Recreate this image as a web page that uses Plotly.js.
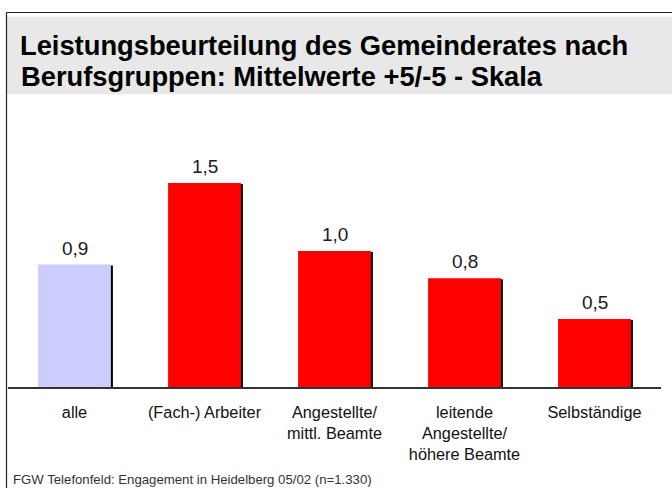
<!DOCTYPE html>
<html>
<head>
<meta charset="utf-8">
<script src="https://cdn.plot.ly/plotly-3.0.1.min.js"></script>
<style>
  html, body { margin: 0; padding: 0; background: #ffffff; }
  #chart { width: 672px; height: 488px; }
</style>
</head>
<body>
<div id="chart"></div>
<script>
// ---- data ----
const categories = ['alle', '(Fach-) Arbeiter', 'Angestellte/<br>mittl. Beamte', 'leitende<br>Angestellte/<br>höhere Beamte', 'Selbständige'];
const values = [0.9, 1.5, 1.0, 0.8, 0.5];
const barColors = ['#ccccff', '#ff0000', '#ff0000', '#ff0000', '#ff0000'];
const titleLine1 = 'Leistungsbeurteilung des Gemeinderates nach';
const titleLine2 = 'Berufsgruppen: Mittelwerte +5/-5 - Skala';
const footer = 'FGW Telefonfeld: Engagement in Heidelberg 05/02 (n=1.330)';

// ---- layout geometry (pixels) ----
const W = 672, H = 488;
const M = { l: 8, r: 11, t: 110, b: 101 };
const plotW = W - M.l - M.r, plotH = H - M.t - M.b;
const pxPerUnit = 136;
const yTop = plotH / pxPerUnit;
const catPx = 130;
const xHalf = (plotW / catPx) / 2;
const xr = [ (categories.length - 1) / 2 - xHalf, (categories.length - 1) / 2 + xHalf ];
const px = x => (x - M.l) / plotW;
const py = y => (H - M.b - y) / plotH;

const FONT = 'Arial, "Liberation Sans", sans-serif';
const barW = 0.56;
const shadowDx = 2 / catPx;
const shadowDy = 1 / pxPerUnit;

const shadow = {
  type: 'bar', x: categories, y: values, base: -shadowDy,
  width: barW, offset: -barW / 2 + shadowDx,
  marker: { color: '#000000', line: { width: 0 } },
  hoverinfo: 'skip', showlegend: false
};
const bars = {
  type: 'bar', x: categories, y: values,
  width: barW, offset: -barW / 2,
  marker: { color: barColors, line: { width: 0 } },
  hoverinfo: 'x+y', showlegend: false
};

const valueLabels = categories.map((c, i) => ({
  x: c, y: values[i], xref: 'x', yref: 'y',
  text: values[i].toFixed(1).replace('.', ','),
  showarrow: false, yanchor: 'bottom', yshift: 4,
  font: { family: FONT, size: 19, color: '#1a1a1a' }
}));

const layout = {
  width: W, height: H,
  margin: M,
  paper_bgcolor: '#ffffff', plot_bgcolor: 'rgba(0,0,0,0)',
  barmode: 'overlay',
  separators: ',.',
  title: {
    text: '<b>' + titleLine1 + '</b>',
    font: { family: FONT, size: 27.3, color: '#000000' },
    x: 20 / W, xanchor: 'left', xref: 'container',
    y: 1 - 54.5 / H, yanchor: 'bottom', yref: 'container'
  },
  xaxis: {
    type: 'category', range: xr, fixedrange: true,
    showline: true, linecolor: '#333333', linewidth: 2,
    ticks: '', showgrid: false, zeroline: false,
    ticklabelstandoff: 9,
    tickfont: { family: FONT, size: 16.3, color: '#111111' }
  },
  yaxis: {
    range: [0, yTop], visible: false, fixedrange: true,
    showgrid: false, zeroline: false
  },
  shapes: [
    { type: 'rect', xref: 'paper', yref: 'paper', layer: 'below',
      x0: px(7), x1: px(W + 2), y0: py(94.3), y1: py(16.7),
      fillcolor: '#e8e8e8', line: { width: 0 } },
    { type: 'line', xref: 'paper', yref: 'paper',
      x0: px(6.5), x1: px(W + 2), y0: py(12.5), y1: py(12.5),
      line: { color: '#222222', width: 1.2 } },
    { type: 'line', xref: 'paper', yref: 'paper',
      x0: px(6.5), x1: px(6.5), y0: py(12.5), y1: py(H + 2),
      line: { color: '#222222', width: 1.2 } }
  ],
  annotations: valueLabels.concat([
    { xref: 'paper', yref: 'paper', x: px(19), y: py(93.5), xanchor: 'left', yanchor: 'bottom',
      text: '<b>' + titleLine2 + '</b>', showarrow: false,
      font: { family: FONT, size: 27.3, color: '#000000' } },
    { xref: 'paper', yref: 'paper', x: px(11), y: py(489), xanchor: 'left', yanchor: 'bottom',
      text: footer, showarrow: false,
      font: { family: FONT, size: 13.2, color: '#333333' } }
  ])
};

Plotly.newPlot('chart', [shadow, bars], layout, { displayModeBar: false, staticPlot: true });
</script>
</body>
</html>
